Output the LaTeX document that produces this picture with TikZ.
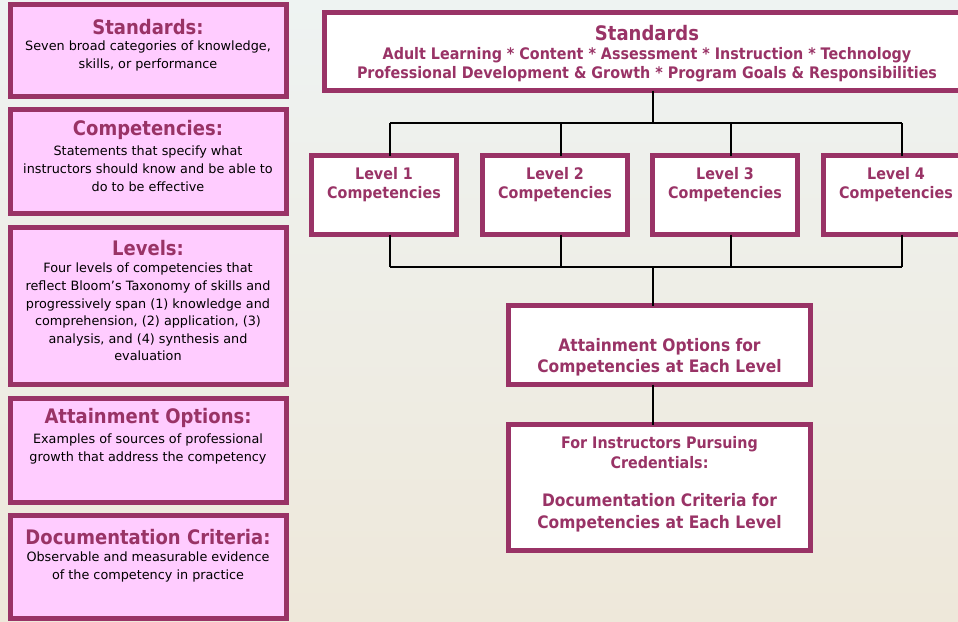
\documentclass[tikz,border=0pt]{standalone}
\usepackage{fontspec}
\setmainfont{DejaVu Sans}[FakeStretch=0.9]
\newfontfamily\bodyfont{DejaVu Sans}
\usetikzlibrary{positioning}
\definecolor{plum}{HTML}{993366}
\definecolor{pinkfill}{HTML}{FFCCFF}
\definecolor{bgtop}{HTML}{EEF3F2}
\definecolor{bgbot}{HTML}{EEE8DA}
\tikzset{
  frame/.style={draw=plum, line width=5pt, inner sep=0pt, outer sep=0pt, anchor=north west},
  defbox/.style={frame, fill=pinkfill, minimum width=276pt},
  chartbox/.style={frame, fill=white},
  deftitle/.style={text=plum, font=\fontsize{20}{22}\selectfont\bfseries, inner sep=0pt},
  deftext/.style={text=black, font=\bodyfont\fontsize{12.8}{17.6}\selectfont, align=center, inner sep=0pt},
  charttext/.style={text=plum, font=\fontsize{15.9}{19}\selectfont\bfseries, align=center, inner sep=0pt},
  link/.style={draw=black, line width=2pt},
}
\begin{document}
\begin{tikzpicture}[x=1pt,y=-1pt]
\useasboundingbox (0,0) rectangle (958,621);
\begin{scope}
\clip (0,0) rectangle (958,621);
\shade[top color=bgtop, bottom color=bgbot] (0,0) rectangle (958,621);

% left definition boxes
\node[defbox, minimum height=92pt] (d1) at (10.5,4.5) {};
\node[defbox, minimum height=104pt] (d2) at (10.5,109.5) {};
\node[defbox, minimum height=157pt] (d3) at (10.5,227.5) {};
\node[defbox, minimum height=104pt] (d4) at (10.5,398.5) {};
\node[defbox, minimum height=103pt] (d5) at (10.5,515.5) {};

\node[deftitle] (t1) at (148,27) {Standards:};
\node[deftext, anchor=north] (x1) at (148,41) {Seven broad categories of knowledge,\\skills, or performance};
\node[deftitle] (t2) at (148,130) {Competencies:};
\node[deftext, anchor=north] (x2) at (148,146) {Statements that specify what\\instructors should know and be able to\\do to be effective};
\node[deftitle] (t3) at (148,248) {Levels:};
\node[deftext, anchor=north] (x3) at (148,263) {Four levels of competencies that\\reflect Bloom’s Taxonomy of skills and\\progressively span (1) knowledge and\\comprehension, (2) application, (3)\\analysis, and (4) synthesis and\\evaluation};
\node[deftitle] (t4) at (148,418) {Attainment Options:};
\node[deftext, anchor=north] (x4) at (148,434) {Examples of sources of professional\\growth that address the competency};
\node[deftitle] (t5) at (148,537) {Documentation Criteria:};
\node[deftext, anchor=north] (x5) at (148,552) {Observable and measurable evidence\\of the competency in practice};

% chart
\node[chartbox, minimum width=645pt, minimum height=78pt] (std) at (324.5,12.5) {};
\node[text=plum, font=\fontsize{20}{22}\selectfont\bfseries, inner sep=0pt] (stdt) at (647,33) {Standards};
\node[charttext, font=\fontsize{15.9}{19}\selectfont\bfseries, anchor=north] (stdx) at (647,47) {Adult Learning * Content * Assessment * Instruction * Technology\\Professional Development \& Growth * Program Goals \& Responsibilities};

\node[chartbox, minimum width=145pt, minimum height=79pt] (l1) at (311.5,155.5) {};
\node[chartbox, minimum width=145pt, minimum height=79pt] (l2) at (482.5,155.5) {};
\node[chartbox, minimum width=145pt, minimum height=79pt] (l3) at (652.5,155.5) {};
\node[chartbox, minimum width=145pt, minimum height=79pt] (l4) at (823.5,155.5) {};
\node[charttext, anchor=north] (l1t) at (384,167) {Level 1\\Competencies};
\node[charttext, anchor=north] (l2t) at (555,167) {Level 2\\Competencies};
\node[charttext, anchor=north] (l3t) at (725,167) {Level 3\\Competencies};
\node[charttext, anchor=north] (l4t) at (896,167) {Level 4\\Competencies};

\node[chartbox, minimum width=302pt, minimum height=79pt] (att) at (508.5,305.5) {};
\node[charttext, font=\fontsize{17.2}{21}\selectfont\bfseries, anchor=north] (attt) at (659.5,338) {Attainment Options for\\Competencies at Each Level};

\node[chartbox, minimum width=302pt, minimum height=126pt] (doc) at (508.5,424.5) {};
\node[charttext, font=\fontsize{15.9}{20}\selectfont\bfseries, anchor=north] (doct1) at (659.5,436) {For Instructors Pursuing\\Credentials:};
\node[charttext, font=\fontsize{17.2}{22}\selectfont\bfseries, anchor=north] (doct2) at (659.5,493) {Documentation Criteria for\\Competencies at Each Level};

% connectors
\coordinate (jt) at (653,123);
\coordinate (jt1) at (390,123);
\coordinate (jt2) at (561,123);
\coordinate (jt3) at (731,123);
\coordinate (jt4) at (902,123);
\coordinate (jb) at (653,267);
\coordinate (jb1) at (390,267);
\coordinate (jb2) at (561,267);
\coordinate (jb3) at (731,267);
\coordinate (jb4) at (902,267);

\draw[link] (std.south -| jt) -- (jt);
\draw[link] (jt1) -- (jt4);
\draw[link] (jt1) -- (l1.north -| jt1);
\draw[link] (jt2) -- (l2.north -| jt2);
\draw[link] (jt3) -- (l3.north -| jt3);
\draw[link] (jt4) -- (l4.north -| jt4);
\draw[link] (l1.south -| jb1) -- (jb1);
\draw[link] (l2.south -| jb2) -- (jb2);
\draw[link] (l3.south -| jb3) -- (jb3);
\draw[link] (l4.south -| jb4) -- (jb4);
\draw[link] (jb1) -- (jb4);
\draw[link] (jb) -- (att.north -| jb);
\draw[link] (att.south -| jb) -- (doc.north -| jb);
\end{scope}
\end{tikzpicture}
\end{document}
